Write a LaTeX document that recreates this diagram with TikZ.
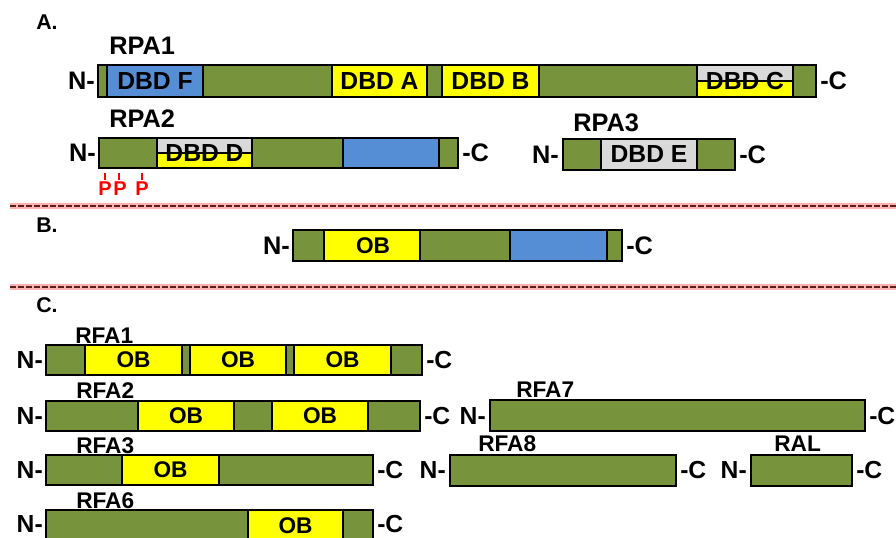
\documentclass[tikz,border=0pt]{standalone}
\usepackage{fontspec}
\setmainfont{Liberation Sans}
\definecolor{olivebar}{RGB}{119,147,60}
\definecolor{dbdblue}{RGB}{85,142,213}
\definecolor{dbdgrey}{RGB}{217,217,217}
\definecolor{dbdyellow}{RGB}{255,255,0}
\definecolor{glowpink}{RGB}{255,178,178}
\definecolor{dashdark}{RGB}{90,30,30}
\begin{document}
\begin{tikzpicture}[x=0.75pt,y=0.75pt,yscale=-1,xscale=1,
  seg/.style={draw=black,line width=1.5pt},
  grn/.style={seg,fill=olivebar},
  ylw/.style={seg,fill=dbdyellow},
  blu/.style={seg,fill=dbdblue},
  gry/.style={seg,fill=dbdgrey},
  hdr/.style={inner sep=0.75pt,font=\bfseries\fontsize{16}{16}\selectfont},
  prot/.style={inner sep=0.75pt,font=\bfseries\fontsize{19}{19}\selectfont},
  term/.style={inner sep=0.75pt,font=\bfseries\fontsize{19}{19}\selectfont},
  dom/.style={inner sep=0.75pt,font=\bfseries\fontsize{18.5}{18.5}\selectfont},
  rfa/.style={inner sep=0.75pt,font=\bfseries\fontsize{17}{17}\selectfont},
  termc/.style={inner sep=0.75pt,font=\bfseries\fontsize{18.5}{18.5}\selectfont},
  ob/.style={inner sep=0.75pt,font=\bfseries\fontsize{17}{17}\selectfont},
  phos/.style={inner sep=0pt,text=red,font=\bfseries\fontsize{15}{15}\selectfont},
  sep/.style={dashdark,line width=1.2pt,dash pattern=on 4.5pt off 1.5pt}]
\useasboundingbox (0,0) rectangle (896,538);
\clip (0,0) rectangle (896,538);

%%% A.
\draw (35,22) node (hdrA) [anchor=west][hdr] {A.};
% RPA1
\draw (108,46) node (rpa1) [anchor=west][prot] {RPA1};
\draw [grn] (98,65) rectangle (107,97);
\draw [blu] (107,65) rectangle (203,97);
\draw [grn] (203,65) rectangle (332,97);
\draw [ylw] (332,65) rectangle (427,97);
\draw [grn] (427,65) rectangle (442,97);
\draw [ylw] (442,65) rectangle (539,97);
\draw [grn] (539,65) rectangle (697,97);
\draw [gry] (697,65) rectangle (793,81);
\draw [ylw] (697,81) rectangle (793,97);
\draw [grn] (793,65) rectangle (816,97);
\draw (155,81) node (dbdF) [dom] {DBD F};
\draw (379.5,81) node (dbdA) [dom] {DBD A};
\draw (490.5,81) node (dbdB) [dom] {DBD B};
\draw (745,81) node (dbdC) [dom] {DBD C};
\draw (96,81) node (rpa1N) [anchor=east][term] {N-};
\draw (819,81) node (rpa1C) [anchor=west][term] {-C};

% RPA2
\draw (108,119) node (rpa2) [anchor=west][prot] {RPA2};
\draw [grn] (99,138) rectangle (157,168);
\draw [gry] (157,138) rectangle (252,153);
\draw [ylw] (157,153) rectangle (252,168);
\draw [grn] (252,138) rectangle (343,168);
\draw [blu] (343,138) rectangle (439,168);
\draw [grn] (439,138) rectangle (458,168);
\draw (204.5,153) node (dbdD) [dom] {DBD D};
\draw (97,153) node (rpa2N) [anchor=east][term] {N-};
\draw (461,153) node (rpa2C) [anchor=west][term] {-C};
% phosphosites
\draw [red,line width=1pt] (105,173) -- (105,180) (119,173) -- (119,180) (142,173) -- (142,180);
\draw (105,189) node (p1) [phos] {P};
\draw (120,189) node (p2) [phos] {P};
\draw (142,189) node (p3) [phos] {P};

% RPA3
\draw (572,123) node (rpa3) [anchor=west][prot] {RPA3};
\draw [grn] (563,139) rectangle (601,170);
\draw [gry] (601,139) rectangle (697,170);
\draw [grn] (697,139) rectangle (735,170);
\draw (649,154.5) node (dbdE) [dom] {DBD E};
\draw (560,154.5) node (rpa3N) [anchor=east][term] {N-};
\draw (738,154.5) node (rpa3C) [anchor=west][term] {-C};

% separators
\draw [glowpink,line width=4pt] (10,206) -- (896,206) (10,287) -- (896,287);
\draw [sep] (10,206) -- (896,206) (10,287) -- (896,287);

%%% B.
\draw (35,225) node (hdrB) [anchor=west][hdr] {B.};
\draw [grn] (293,230) rectangle (324,261);
\draw [ylw] (324,230) rectangle (420,261);
\draw [grn] (420,230) rectangle (510,261);
\draw [blu] (510,230) rectangle (607,261);
\draw [grn] (607,230) rectangle (622,261);
\draw (373,245.5) node (obB) [ob] {OB};
\draw (291,245.5) node (bN) [anchor=east][term] {N-};
\draw (625,245.5) node (bC) [anchor=west][term] {-C};

%%% C.
\draw (35,305) node (hdrC) [anchor=west][hdr] {C.};
% RFA1
\draw (74,336) node (rfa1) [anchor=west][rfa] {RFA1};
\draw [grn] (46,345) rectangle (85,375);
\draw [ylw] (85,345) rectangle (182,375);
\draw [grn] (182,345) rectangle (190,375);
\draw [ylw] (190,345) rectangle (286,375);
\draw [grn] (286,345) rectangle (294,375);
\draw [ylw] (294,345) rectangle (391,375);
\draw [grn] (391,345) rectangle (422,375);
\draw (133.5,360) node (ob11) [ob] {OB};
\draw (238,360) node (ob12) [ob] {OB};
\draw (342.5,360) node (ob13) [ob] {OB};
\draw (44,360) node (rfa1N) [anchor=east][termc] {N-};
\draw (425,360) node (rfa1C) [anchor=west][termc] {-C};

% RFA2
\draw (75,391) node (rfa2) [anchor=west][rfa] {RFA2};
\draw [grn] (46,401) rectangle (138,431);
\draw [ylw] (138,401) rectangle (234,431);
\draw [grn] (234,401) rectangle (272,431);
\draw [ylw] (272,401) rectangle (368,431);
\draw [grn] (368,401) rectangle (420,431);
\draw (186,416) node (ob21) [ob] {OB};
\draw (320,416) node (ob22) [ob] {OB};
\draw (44,416) node (rfa2N) [anchor=east][termc] {N-};
\draw (423,416) node (rfa2C) [anchor=west][termc] {-C};

% RFA7
\draw (515,390) node (rfa7) [anchor=west][rfa] {RFA7};
\draw [grn] (490,400) rectangle (865,431);
\draw (487,416) node (rfa7N) [anchor=east][termc] {N-};
\draw (868,416) node (rfa7C) [anchor=west][termc] {-C};

% RFA3
\draw (75,446) node (rfa3) [anchor=west][rfa] {RFA3};
\draw [grn] (46,455) rectangle (122,485);
\draw [ylw] (122,455) rectangle (219,485);
\draw [grn] (219,455) rectangle (373,485);
\draw (170.5,470) node (ob31) [ob] {OB};
\draw (44,470) node (rfa3N) [anchor=east][termc] {N-};
\draw (376,470) node (rfa3C) [anchor=west][termc] {-C};

% RFA8
\draw (477,444) node (rfa8) [anchor=west][rfa] {RFA8};
\draw [grn] (450,455) rectangle (676,486);
\draw (447,470) node (rfa8N) [anchor=east][termc] {N-};
\draw (679,470) node (rfa8C) [anchor=west][termc] {-C};

% RAL
\draw (773,444) node (ral) [anchor=west][rfa] {RAL};
\draw [grn] (751,455) rectangle (852,486);
\draw (748,470) node (ralN) [anchor=east][termc] {N-};
\draw (855,470) node (ralC) [anchor=west][termc] {-C};

% RFA6
\draw (75,501) node (rfa6) [anchor=west][rfa] {RFA6};
\draw [grn] (46,510) rectangle (248,542);
\draw [ylw] (248,510) rectangle (343,542);
\draw [grn] (343,510) rectangle (373,542);
\draw (295.5,526) node (ob61) [ob] {OB};
\draw (44,524) node (rfa6N) [anchor=east][termc] {N-};
\draw (376,524) node (rfa6C) [anchor=west][termc] {-C};
\end{tikzpicture}
\end{document}
